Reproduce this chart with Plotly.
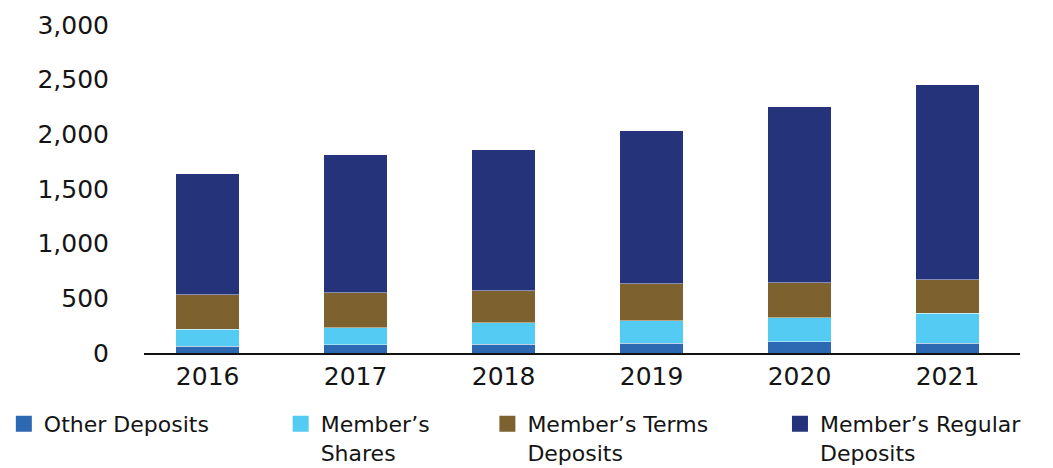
import plotly.graph_objects as go

# Deposit composition by year (stacked)
years = ["2016", "2017", "2018", "2019", "2020", "2021"]
other_deposits = [64, 76, 80, 89, 104, 89]
members_shares = [153, 153, 195, 207, 217, 275]
members_terms = [317, 321, 296, 336, 323, 305]
members_regular = [1106, 1264, 1289, 1401, 1607, 1786]

series_names = ["Other Deposits", "Member’s<br>Shares", "Member’s Terms<br>Deposits", "Member’s Regular<br>Deposits"]
series_colors = ["#2D69B3", "#53CBF3", "#7D6230", "#25347A"]
y_ticks = [0, 500, 1000, 1500, 2000, 2500, 3000]

FONT = "DejaVu Sans"
TEXT_COLOR = "#141414"

# one legend per series so each entry sits at its own horizontal position
legend_ids = ["legend", "legend2", "legend3", "legend4"]
legend_x = [-0.16, 0.156, 0.392, 0.726]

fig = go.Figure()
for name, vals, color, lid in zip(series_names,
                                  [other_deposits, members_shares, members_terms, members_regular],
                                  series_colors, legend_ids):
    fig.add_trace(go.Bar(
        x=years, y=vals, name=name, width=0.43,
        marker=dict(color=color, line=dict(color="rgba(255,255,255,0.55)", width=0.8)),
        showlegend=False,
    ))
    # legend entry with a larger square swatch
    fig.add_trace(go.Scatter(
        x=[None], y=[None], mode="markers", name=name,
        marker=dict(symbol="square", size=20, color=color),
        showlegend=True, legend=lid,
    ))

legend_style = dict(
    orientation="h", xanchor="left", y=-0.152, yanchor="top",
    font=dict(family=FONT, size=22, color=TEXT_COLOR),
    valign="top", itemsizing="trace", bgcolor="rgba(0,0,0,0)",
)

fig.update_layout(
    barmode="stack",
    width=1053, height=468,
    margin=dict(l=144, r=33, t=25, b=115, autoexpand=False),
    paper_bgcolor="white", plot_bgcolor="white",
    font=dict(family=FONT, color=TEXT_COLOR),
    xaxis=dict(
        type="category", range=[-0.43, 5.49],
        showline=True, linecolor="#111111", linewidth=1.5,
        showgrid=False, ticks="", tickfont=dict(size=25),
    ),
    yaxis=dict(
        range=[0, 3000], tickvals=y_ticks, tickformat=",d",
        showgrid=False, zeroline=False, showline=False, ticks="",
        tickfont=dict(size=25), ticklabelstandoff=34,
    ),
)
for lid, lx in zip(legend_ids, legend_x):
    fig.update_layout({lid: dict(legend_style, x=lx)})

fig.write_html("out.html")
